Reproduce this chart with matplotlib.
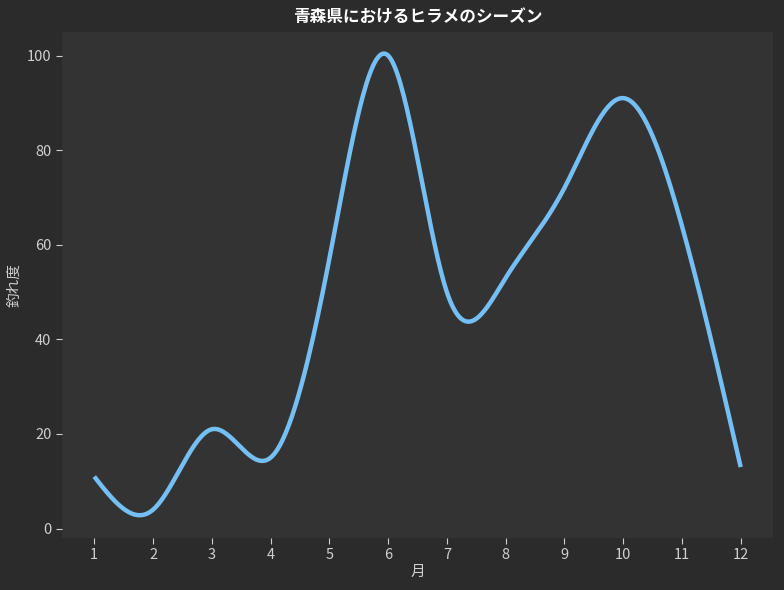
import numpy as np
import matplotlib
matplotlib.use('Agg')
import matplotlib.pyplot as plt

plt.rcParams['font.family'] = ['Noto Sans CJK JP', 'DejaVu Sans']

# monthly catch index
months = np.arange(1, 13)
score = np.array([11, 4, 21, 15, 57, 100, 50, 53, 72, 91, 64, 13])


def cubic_spline(x, y, xs):
    # natural cubic spline, one cubic per interval
    n = len(x) - 1
    A = np.zeros((4 * n, 4 * n))
    b = np.zeros(4 * n)
    r = 0
    for i in range(n):
        h = x[i + 1] - x[i]
        A[r, 4 * i] = 1; b[r] = y[i]; r += 1
        A[r, 4 * i:4 * i + 4] = [1, h, h ** 2, h ** 3]; b[r] = y[i + 1]; r += 1
    for i in range(n - 1):
        h = x[i + 1] - x[i]
        A[r, 4 * i:4 * i + 4] = [0, 1, 2 * h, 3 * h ** 2]; A[r, 4 * i + 5] = -1; r += 1
        A[r, 4 * i:4 * i + 4] = [0, 0, 2, 6 * h]; A[r, 4 * i + 6] = -2; r += 1
    A[r, 2] = 2; r += 1
    h = x[-1] - x[-2]
    A[r, 4 * (n - 1):4 * n] = [0, 0, 2, 6 * h]
    c = np.linalg.solve(A, b).reshape(n, 4)
    idx = np.clip(np.searchsorted(x, xs) - 1, 0, n - 1)
    d = xs - x[idx]
    return c[idx, 0] + c[idx, 1] * d + c[idx, 2] * d ** 2 + c[idx, 3] * d ** 3


xs = np.linspace(months[0], months[-1], 400)
ys = cubic_spline(months.astype(float), score.astype(float), xs)

fig = plt.figure(figsize=(7.84, 5.9), dpi=100, facecolor='#2b2b2b')
ax = fig.add_axes([0.079, 0.088, 0.907, 0.858])
ax.set_facecolor('#333333')
ax.plot(xs, ys, color='#74c0f4', linewidth=3.2, solid_capstyle='butt')

ax.set_xlim(0.45, 12.55)
ax.set_ylim(-2, 105)
ax.set_xticks(months)
ax.set_yticks(np.arange(0, 101, 20))
for s in ax.spines.values():
    s.set_visible(False)
ax.tick_params(colors='#d0d0d0', labelsize=10.5, length=4)
ax.set_xlabel('月', color='#d0d0d0', fontsize=10.5, labelpad=2)
ax.set_ylabel('釣れ度', color='#d0d0d0', fontsize=10.5)
ax.set_title('青森県におけるヒラメのシーズン', color='white', fontsize=12,
             fontweight='bold', pad=7)

fig.savefig('out.png', dpi=100, facecolor=fig.get_facecolor())
